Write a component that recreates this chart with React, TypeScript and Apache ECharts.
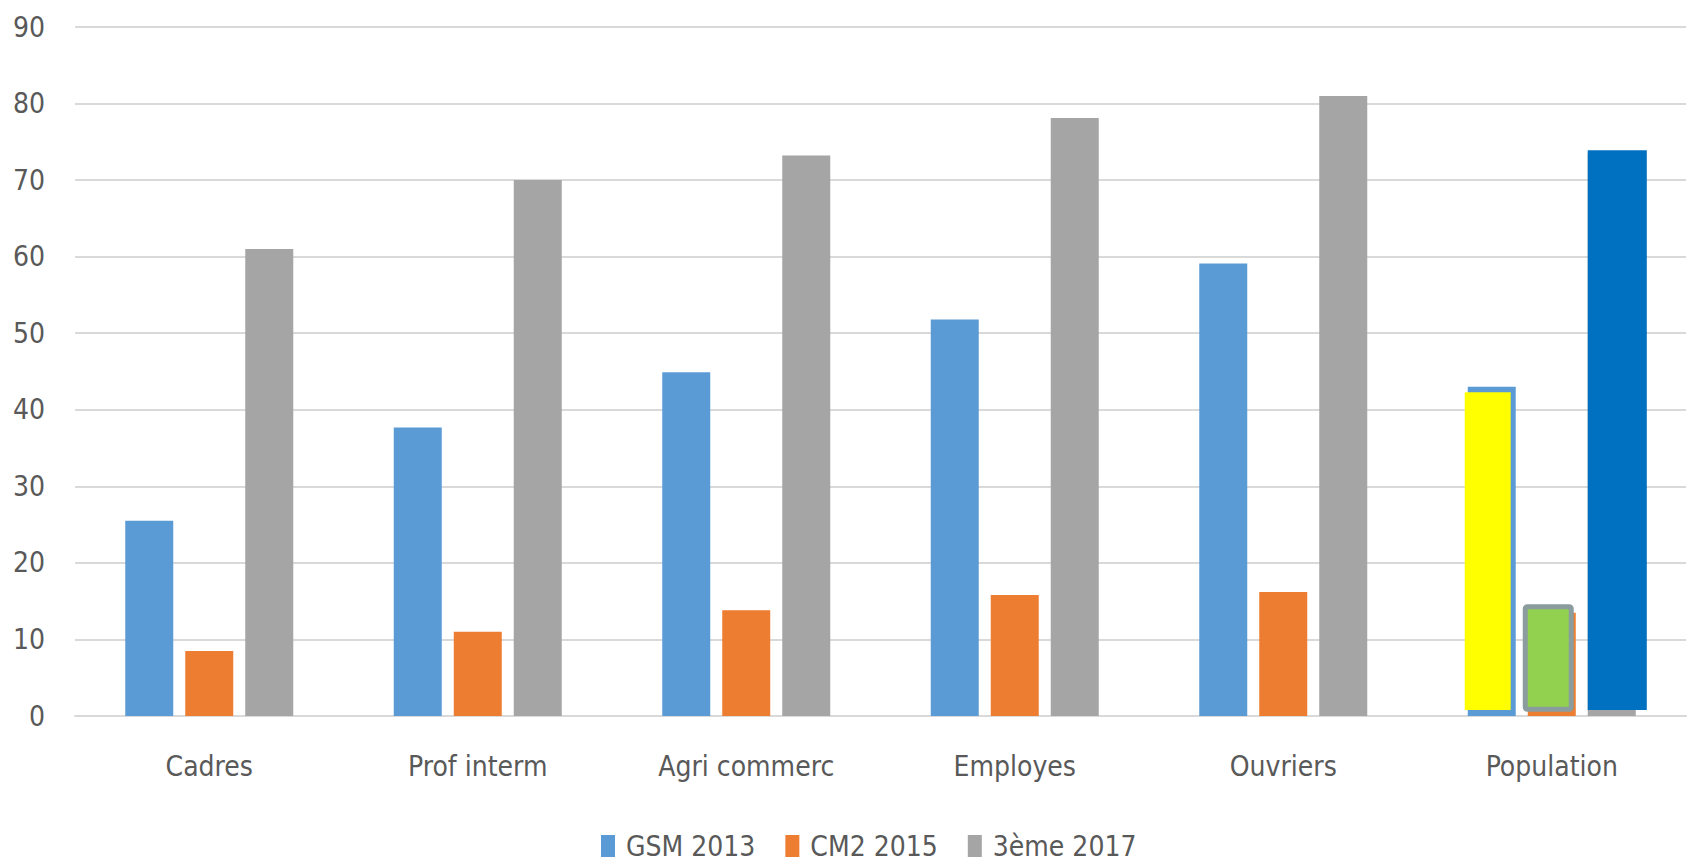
import React, { useEffect, useRef } from "react";
import * as echarts from "echarts";

const categories = ["Cadres", "Prof interm", "Agri commerc", "Employes", "Ouvriers", "Population"];
const seriesNames = ["GSM 2013", "CM2 2015", "3ème 2017"];
const gsm2013 = [25.5, 37.7, 44.9, 51.8, 59.1, 43.0];
const cm2015 = [8.5, 11, 13.8, 15.8, 16.2, 13.5];
const troisieme2017 = [61, 70, 73.2, 78.1, 81, 73.5];
const yTicks = { min: 0, max: 90, interval: 10 };

// Highlight rectangles drawn over the "Population" group: [categoryIndex, low, high]
const overlayData = [
  [5, 0.78, 42.3],
  [5, 0.56, 14.6],
  [5, 0.78, 73.9],
];
// Styles / horizontal placement (fraction of category band, relative to its centre)
const overlayFrom = [-0.324, -0.108, 0.134];
const overlayTo = [-0.153, 0.082, 0.354];
const overlayFill = ["#ffff00", "#92d050", "#0070c0"];
const overlayStroke = ["none", "#8a9c9e", "none"];
const overlayStrokeWidth = [0, 5, 0];

const colors = ["#5b9bd5", "#ed7d31", "#a5a5a5"];
const FONT = "'Liberation Sans Narrow', 'DejaVu Sans Condensed', 'Arial Narrow', sans-serif";

export default function App() {
  const ref = useRef<HTMLDivElement>(null);
  useEffect(() => {
    if (!ref.current) return;
    const chart = echarts.init(ref.current, undefined, { renderer: "svg" });
    const barCommon = {
      type: "bar",
      barWidth: 48,
      barGap: "25%",
    };
    chart.setOption({
      animation: false,
      backgroundColor: "#ffffff",
      color: colors,
      grid: { left: 75, right: 6, top: 27, bottom: 148, containLabel: false },
      legend: {
        data: seriesNames,
        left: 601,
        top: 832,
        padding: 0,
        icon: "rect",
        itemWidth: 14,
        itemHeight: 22,
        itemGap: 30,
        textStyle: { color: "#595959", fontSize: 28, fontFamily: FONT, padding: [0, 0, 0, 6] },
      },
      xAxis: {
        type: "category",
        data: categories,
        axisTick: { show: false },
        axisLine: { lineStyle: { color: "#d9d9d9", width: 2 } },
        axisLabel: { color: "#595959", fontSize: 28, fontFamily: FONT, margin: 36 },
      },
      yAxis: {
        type: "value",
        min: yTicks.min,
        max: yTicks.max,
        interval: yTicks.interval,
        axisLine: { show: false },
        axisTick: { show: false },
        axisLabel: { color: "#595959", fontSize: 28, fontFamily: FONT, margin: 30 },
        splitLine: { lineStyle: { color: "#d9d9d9", width: 2 } },
      },
      series: [
        { ...barCommon, name: seriesNames[0], data: gsm2013 },
        { ...barCommon, name: seriesNames[1], data: cm2015 },
        { ...barCommon, name: seriesNames[2], data: troisieme2017 },
        {
          type: "custom",
          name: "overlay",
          z: 5,
          encode: { x: 0, y: [1, 2] },
          data: overlayData,
          renderItem: (params: any, api: any) => {
            const idx = params.dataIndex;
            const cat = api.value(0);
            const lo = api.value(1);
            const hi = api.value(2);
            const center = api.coord([cat, 0])[0];
            const band = api.size([1, 0])[0];
            const top = api.coord([cat, hi])[1];
            const bottom = api.coord([cat, lo])[1];
            const x0 = center + overlayFrom[idx] * band;
            const x1 = center + overlayTo[idx] * band;
            const sw = overlayStrokeWidth[idx];
            return {
              type: "rect",
              shape: {
                x: x0 + sw / 2,
                y: top + sw / 2,
                width: x1 - x0 - sw,
                height: bottom - top - sw,
                r: sw ? 2 : 0,
              },
              style: {
                fill: overlayFill[idx],
                stroke: overlayStroke[idx] === "none" ? null : overlayStroke[idx],
                lineWidth: sw,
              },
            };
          },
        },
      ],
    });
    return () => chart.dispose();
  }, []);
  return (
    <div
      ref={ref}
      style={{ position: "fixed", left: 0, top: 0, width: 1692, height: 864 }}
    />
  );
}
